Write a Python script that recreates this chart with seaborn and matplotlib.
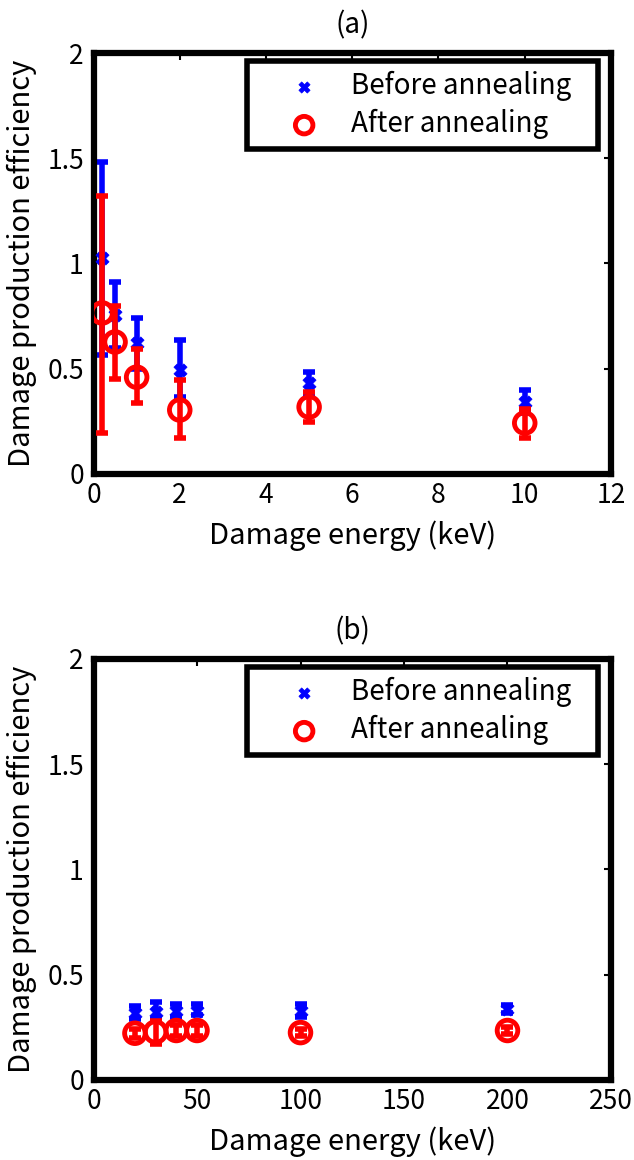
import numpy as np
import pandas as pd
import matplotlib
matplotlib.use("Agg")
import matplotlib.pyplot as plt
import seaborn as sns

# ---- data: panel (a) ----
energy_a = [0.2, 0.5, 1, 2, 5, 10]
before_a = [1.026, 0.755, 0.62, 0.494, 0.432, 0.342]
before_a_lo = [0.565, 0.60, 0.50, 0.366, 0.38, 0.29]
before_a_hi = [1.48, 0.91, 0.74, 0.636, 0.485, 0.40]
after_a = [0.765, 0.627, 0.46, 0.304, 0.318, 0.242]
after_a_lo = [0.195, 0.45, 0.337, 0.171, 0.247, 0.171]
after_a_hi = [1.32, 0.80, 0.594, 0.447, 0.39, 0.309]

# ---- data: panel (b) ----
energy_b = [20, 30, 40, 50, 100, 200]
before_b = [0.32, 0.325, 0.33, 0.33, 0.33, 0.335]
before_b_lo = [0.29, 0.29, 0.30, 0.31, 0.30, 0.32]
before_b_hi = [0.35, 0.37, 0.36, 0.36, 0.36, 0.355]
after_b = [0.222, 0.228, 0.235, 0.235, 0.225, 0.235]
after_b_lo = [0.20, 0.17, 0.21, 0.21, 0.21, 0.22]
after_b_hi = [0.24, 0.28, 0.26, 0.26, 0.24, 0.25]

labels = ["Before annealing", "After annealing"]
xticks_a = [0, 2, 4, 6, 8, 10, 12]
xticks_b = [0, 50, 100, 150, 200, 250]
yticks = [0, 0.5, 1, 1.5, 2]
ytick_labels = ["0", "0.5", "1", "1.5", "2"]

sns.set_theme(style="white")
plt.rcParams['font.family'] = ['Noto Sans CJK JP', 'DejaVu Sans']
plt.rcParams['text.color'] = 'black'
plt.rcParams['axes.labelcolor'] = 'black'

fig = plt.figure(figsize=(6.34, 11.6), dpi=100)
ax_a = fig.add_axes([0.1475, 0.5914, 0.8162, 0.3629])
ax_b = fig.add_axes([0.1475, 0.0690, 0.8162, 0.3629])

FS_TICK = 19
FS_LAB = 21
FS_LEG = 20
FS_TITLE = 20

def draw(ax, x, b, blo, bhi, a, alo, ahi, xticks, xlim, title):
    b = np.array(b); a = np.array(a)
    yerr_b = [b - np.array(blo), np.array(bhi) - b]
    yerr_a = [a - np.array(alo), np.array(ahi) - a]
    ax.errorbar(x, b, yerr=yerr_b, fmt='none', ecolor='blue', elinewidth=4,
                capsize=4, capthick=4, zorder=2)
    df_b = pd.DataFrame({"x": x, "y": b})
    sns.scatterplot(data=df_b, x="x", y="y", ax=ax, marker='X', color='blue',
                    s=90, edgecolor='blue', linewidth=0.5, zorder=3, label=labels[0])
    ax.errorbar(x, a, yerr=yerr_a, fmt='none', ecolor='red', elinewidth=4,
                capsize=4, capthick=4, zorder=4)
    df_a = pd.DataFrame({"x": x, "y": a})
    sns.scatterplot(data=df_a, x="x", y="y", ax=ax, marker='o', facecolor='none',
                    edgecolor='red', s=220, linewidth=3.5, zorder=5, label=labels[1])
    ax.set_xlim(*xlim)
    ax.set_ylim(0, 2)
    ax.set_xticks(xticks)
    ax.set_xticklabels([str(t) for t in xticks], fontsize=FS_TICK)
    ax.set_yticks(yticks)
    ax.set_yticklabels(ytick_labels, fontsize=FS_TICK)
    ax.tick_params(direction='in', length=5, width=1.5, top=True, right=True,
                   colors='black')
    ax.tick_params(axis='x', pad=6)
    ax.tick_params(axis='y', pad=7)
    for sp in ax.spines.values():
        sp.set_linewidth(4.5)
        sp.set_color('black')
    ax.set_xlabel("Damage energy (keV)", fontsize=FS_LAB, labelpad=8, color='black')
    ax.set_ylabel("Damage production efficiency", fontsize=FS_LAB, labelpad=7, color='black')
    ax.set_title(title, fontsize=FS_TITLE, pad=14, color='black')
    leg = ax.legend(loc='upper left', bbox_to_anchor=(0.297, 0.772, 0.678, 0.209),
                    mode='expand', fontsize=FS_LEG, frameon=True, fancybox=False,
                    edgecolor='black', borderpad=0.35, labelspacing=0.3,
                    handletextpad=0.0, borderaxespad=0, handlelength=3.4,
                    markerscale=0.85)
    leg.get_frame().set_linewidth(4)
    leg.get_frame().set_alpha(1)
    for t in leg.get_texts():
        t.set_color('black')

draw(ax_a, energy_a, before_a, before_a_lo, before_a_hi, after_a, after_a_lo, after_a_hi,
     xticks_a, (0, 12), "(a)")
draw(ax_b, energy_b, before_b, before_b_lo, before_b_hi, after_b, after_b_lo, after_b_hi,
     xticks_b, (0, 250), "(b)")

fig.savefig("out.png", dpi=100, facecolor='white')
